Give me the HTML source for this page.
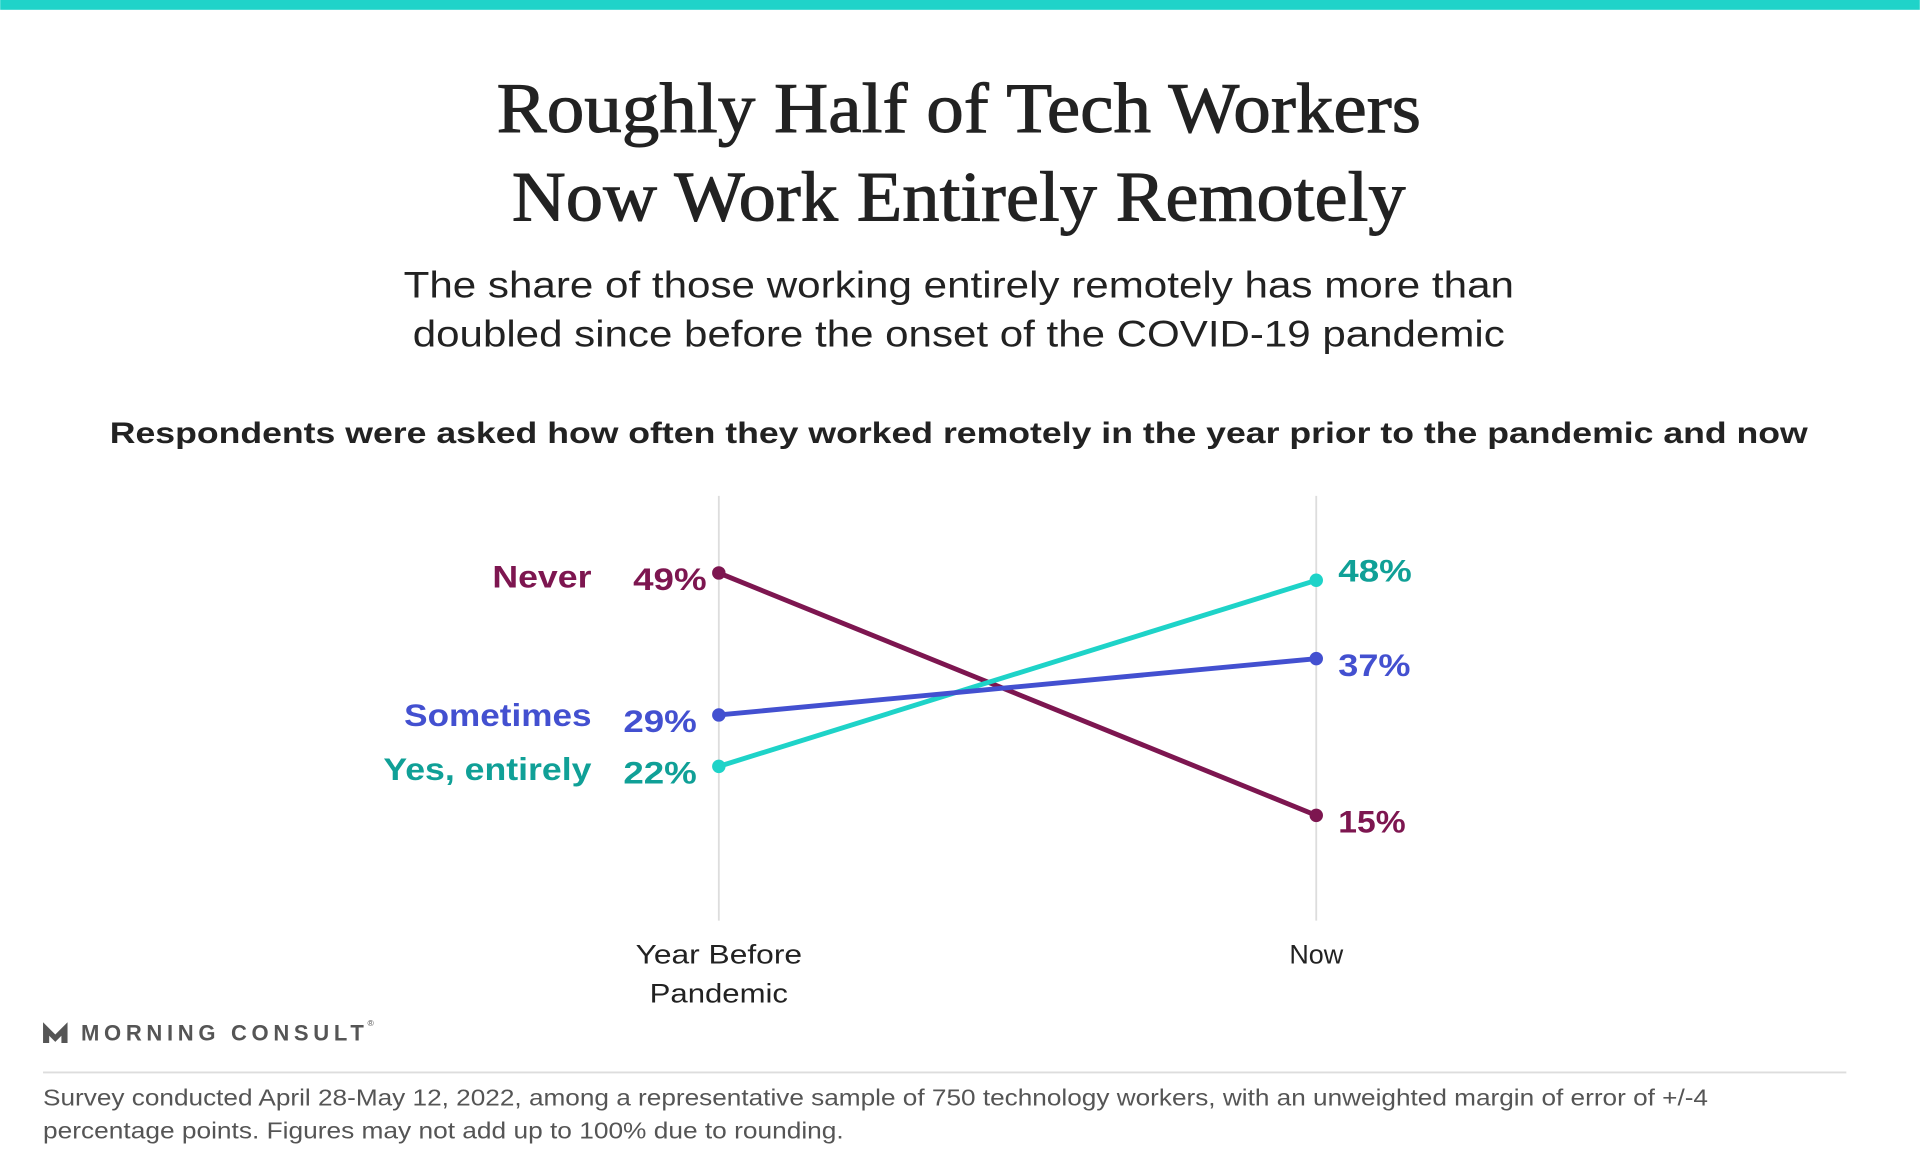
<!DOCTYPE html>
<html><head><meta charset="utf-8"><style>
html,body{margin:0;padding:0;background:#fff;}
svg{display:block;}
</style></head><body>
<svg width="1920" height="1152" viewBox="0 0 1568 941" xmlns="http://www.w3.org/2000/svg">
<rect x="0" y="0" width="1568" height="8" fill="#1fd3c9"/>
<g font-family="Liberation Serif, serif" font-size="58" fill="#222" text-anchor="middle" stroke="#222" stroke-width="0.8">
<text x="783" y="108" textLength="755" lengthAdjust="spacingAndGlyphs">Roughly Half of Tech Workers</text>
<text x="783" y="180" textLength="730" lengthAdjust="spacingAndGlyphs">Now Work Entirely Remotely</text>
</g>
<g font-family="Liberation Sans, sans-serif" font-size="30" fill="#222" text-anchor="middle">
<text x="783" y="243" textLength="907" lengthAdjust="spacingAndGlyphs">The share of those working entirely remotely has more than</text>
<text x="783" y="283" textLength="892" lengthAdjust="spacingAndGlyphs">doubled since before the onset of the COVID-19 pandemic</text>
</g>
<text x="783" y="362" font-family="Liberation Sans, sans-serif" font-size="24" font-weight="bold" fill="#222" text-anchor="middle" textLength="1387" lengthAdjust="spacingAndGlyphs">Respondents were asked how often they worked remotely in the year prior to the pandemic and now</text>
<line x1="587" y1="405" x2="587" y2="752" stroke="#ddd" stroke-width="1.5"/>
<line x1="1075" y1="405" x2="1075" y2="752" stroke="#ddd" stroke-width="1.5"/>
<g stroke-width="4">
<line x1="587" y1="468" x2="1075" y2="666" stroke="#7d1650"/>
<line x1="587" y1="626" x2="1075" y2="474" stroke="#1ed3c8"/>
<line x1="587" y1="584" x2="1075" y2="538" stroke="#4350d0"/>
</g>
<circle cx="587" cy="468" r="5.5" fill="#7d1650"/><circle cx="1075" cy="666" r="5.5" fill="#7d1650"/>
<circle cx="587" cy="626" r="5.5" fill="#1ed3c8"/><circle cx="1075" cy="474" r="5.5" fill="#1ed3c8"/>
<circle cx="587" cy="584" r="5.5" fill="#4350d0"/><circle cx="1075" cy="538" r="5.5" fill="#4350d0"/>
<g font-family="Liberation Sans, sans-serif" font-size="26" font-weight="bold">
<text x="402" y="480" fill="#7d1650" textLength="81" lengthAdjust="spacingAndGlyphs">Never</text>
<text x="517" y="482" fill="#7d1650" textLength="60" lengthAdjust="spacingAndGlyphs">49%</text>
<text x="330" y="593" fill="#4350d0" textLength="153" lengthAdjust="spacingAndGlyphs">Sometimes</text>
<text x="509" y="598" fill="#4350d0" textLength="60" lengthAdjust="spacingAndGlyphs">29%</text>
<text x="313" y="637" fill="#10a097" textLength="170" lengthAdjust="spacingAndGlyphs">Yes, entirely</text>
<text x="509" y="640" fill="#10a097" textLength="60" lengthAdjust="spacingAndGlyphs">22%</text>
<text x="1093" y="475" fill="#10a097" textLength="60" lengthAdjust="spacingAndGlyphs">48%</text>
<text x="1093" y="552" fill="#4350d0" textLength="59" lengthAdjust="spacingAndGlyphs">37%</text>
<text x="1093" y="680" fill="#7d1650" textLength="55" lengthAdjust="spacingAndGlyphs">15%</text>
</g>
<g font-family="Liberation Sans, sans-serif" font-size="22" fill="#222" text-anchor="middle">
<text x="587" y="787" textLength="136" lengthAdjust="spacingAndGlyphs">Year Before</text>
<text x="587" y="819" textLength="113" lengthAdjust="spacingAndGlyphs">Pandemic</text>
<text x="1075" y="787">Now</text>
</g>
<path d="M35 852 L35 835 L45 845 L55 835 L55 852 L50 852 L50 846 L45 851 L40 846 L40 852 Z" fill="#555"/>
<text x="66" y="850" font-family="Liberation Sans, sans-serif" font-size="18" font-weight="bold" fill="#555" textLength="231" lengthAdjust="spacing">MORNING CONSULT</text>
<text x="300" y="838" font-family="Liberation Sans, sans-serif" font-size="7" fill="#555">®</text>
<line x1="35" y1="876" x2="1508" y2="876" stroke="#ddd" stroke-width="1.5"/>
<g font-family="Liberation Sans, sans-serif" font-size="19" fill="#555">
<text x="35" y="903" textLength="1360" lengthAdjust="spacingAndGlyphs">Survey conducted April 28-May 12, 2022, among a representative sample of 750 technology workers, with an unweighted margin of error of +/-4</text>
<text x="35" y="930" textLength="654" lengthAdjust="spacingAndGlyphs">percentage points. Figures may not add up to 100% due to rounding.</text>
</g>
</svg>
</body></html>
